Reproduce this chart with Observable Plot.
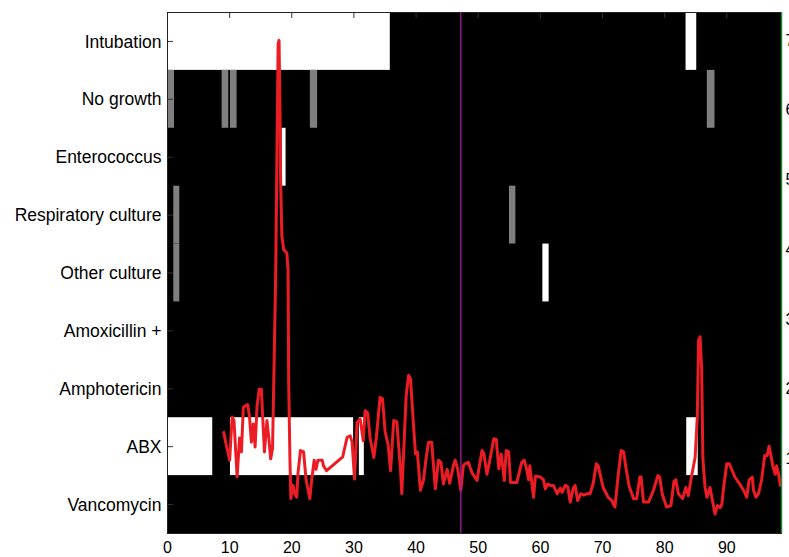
<!DOCTYPE html>
<html><head><meta charset="utf-8">
<script src="https://cdn.jsdelivr.net/npm/d3@7"></script>
<script src="https://cdn.jsdelivr.net/npm/@observablehq/plot@0.6"></script>
<style>
html,body{margin:0;padding:0;background:#fff;overflow:hidden;}
#wrap{position:relative;width:789px;height:557px;}
#wrap svg{position:absolute;left:0;top:0;}
</style></head><body><div id="wrap"></div>
<script>
const categories = ["Intubation","No growth","Enterococcus","Respiratory culture","Other culture","Amoxicillin +","Amphotericin","ABX","Vancomycin"];
const eventCategory = ["Intubation","Intubation","No growth","No growth","No growth","No growth","No growth","Enterococcus","Respiratory culture","Respiratory culture","Other culture","Other culture","ABX","ABX","ABX","ABX"];
const eventStart = [0,83.44,0,8.79,10.13,22.99,86.86,18.44,1.01,55.03,1.01,60.4,0,10.13,30.87,83.55];
const eventEnd   = [35.85,85.16,1.13,9.86,11.2,24.16,88.1,19.08,1.98,56.06,1.98,61.41,7.28,29.95,31.67,85.4];
const eventTone  = ["white","white","gray","gray","gray","gray","gray","white","gray","gray","gray","white","white","white","white","white"];
const xTicks = [0,10,20,30,40,50,60,70,80,90];
const xMax = 98.8;
const signalTicks = [1,2,3,4,5,6,7];
const signalDomain = [-0.07,7.4];
const markerTime = [47.2];
const time = [9.05,9.4,10.0,10.4,10.7,11.2,11.6,11.9,12.2,12.9,13.2,13.5,13.8,14.1,14.4,14.75,15.1,15.6,16.0,16.3,16.6,16.9,17.1,17.4,17.8,17.95,18.1,18.2,18.4,18.7,19.2,19.4,19.5,19.7,19.85,20.2,20.5,20.8,21.0,21.4,21.9,22.3,22.9,23.2,23.6,23.9,24.2,24.9,25.1,25.6,28.2,28.9,29.4,29.7,30.1,30.5,31.0,31.5,31.8,32.2,32.6,33.2,33.6,34.2,34.6,35.0,35.5,35.9,36.4,36.9,37.5,37.7,38.0,38.4,38.8,39.1,39.5,39.9,40.2,40.7,41.2,41.6,42.0,42.5,42.9,43.1,43.6,44.0,44.4,45.0,45.4,46.0,46.3,46.7,47.2,47.6,47.9,48.4,49.0,49.8,50.6,50.9,51.4,51.8,52.5,52.9,53.3,53.7,54.2,54.5,54.9,55.2,56.2,57.0,57.4,57.8,58.1,58.3,58.9,59.2,60.0,60.5,60.8,61.2,61.6,62.1,62.7,63.2,63.5,64.0,64.4,64.8,65.3,65.6,66.0,66.5,67.0,67.5,68.0,68.5,69.0,69.3,70.1,70.9,71.5,72.0,72.5,73.0,73.4,73.8,74.3,75.0,75.5,76.0,76.2,76.6,77.4,78.2,78.9,79.2,79.6,80.3,81.0,81.5,81.8,82.2,82.9,83.4,83.8,84.3,84.9,85.25,85.45,85.7,85.95,86.15,86.5,86.8,87.3,87.8,88.1,88.5,88.9,89.2,89.5,90.0,90.4,91.3,92.0,92.7,93.2,93.6,94.1,94.3,94.7,95.1,95.6,96.1,96.5,96.8,97.1,97.4,97.8,98.0,98.3,98.6];
const signal = [1.38,1.22,0.98,1.6,1.55,0.74,1.3,1.1,1.74,1.78,1.6,1.24,1.5,1.17,1.75,2.0,2.0,1.1,1.55,1.3,1.0,1.15,2.1,3.6,6.95,7.0,6.0,5.0,4.2,4.0,3.95,3.7,2.1,1.0,0.43,0.62,0.5,0.45,0.8,1.12,1.1,0.7,0.43,0.7,0.98,0.85,0.98,0.98,0.9,0.83,1.03,1.31,1.33,1.24,0.71,1.52,1.57,1.26,1.69,1.66,1.3,1.02,1.3,1.88,1.86,1.4,1.2,0.83,1.55,1.53,0.83,0.5,1.1,1.9,2.2,2.15,1.6,1.07,1.1,0.55,0.7,1.0,1.24,1.24,0.8,0.57,0.98,0.95,0.64,0.85,0.65,0.9,0.98,0.85,0.55,0.9,0.93,0.95,0.8,0.69,1.12,1.08,0.78,0.95,1.29,1.28,0.86,1.07,0.69,1.12,1.1,0.66,0.66,0.95,0.98,0.85,0.7,0.9,0.45,0.75,0.74,0.7,0.57,0.64,0.62,0.62,0.5,0.58,0.52,0.62,0.6,0.38,0.58,0.62,0.4,0.5,0.48,0.5,0.5,0.65,0.93,0.9,0.59,0.45,0.4,0.31,0.75,1.12,1.1,0.85,0.6,0.43,0.43,0.74,0.74,0.38,0.38,0.55,0.76,0.74,0.5,0.31,0.33,0.68,0.7,0.5,0.43,0.59,0.47,0.74,1.02,1.6,2.7,2.75,2.3,1.0,0.59,0.45,0.59,0.35,0.21,0.33,0.3,0.35,0.6,0.93,0.93,0.74,0.65,0.55,0.45,0.7,0.74,0.55,0.45,0.5,0.7,1.05,1.05,1.18,1.05,0.9,0.78,0.9,0.8,0.62];

const toneColor = {white: "#ffffff", gray: "#7f7f7f"};
const events = eventCategory.map((c, i) => ({cat: c, start: eventStart[i], end: eventEnd[i], color: toneColor[eventTone[i]]}));
const series = time.map((t, i) => ({t, v: signal[i]}));

const common = {
  width: 789, height: 557,
  marginTop: 12, marginRight: 8, marginBottom: 24, marginLeft: 167,
  style: {fontFamily: "'Liberation Sans', Arial, sans-serif", fontSize: "16px", background: "transparent", color: "black", overflow: "hidden"}
};

const base = Plot.plot({
  ...common,
  x: {domain: [0, xMax]},
  y: {domain: categories, padding: 0, round: false},
  color: {type: "identity"},
  marks: [
    Plot.frame({fill: "black"}),
    Plot.barX(events, {x1: "start", x2: "end", y: "cat", fill: "color"}),
    Plot.axisX({anchor: "bottom", ticks: xTicks, tickSize: 0, tickPadding: 8, label: null, fontSize: 16}),
    Plot.axisX({anchor: "top", ticks: xTicks, tickSize: 5, dy: 5, tickFormat: () => "", label: null, stroke: "#333"}),
    Plot.axisY({anchor: "left", tickSize: 0, tickPadding: 6, label: null, fontSize: 17.5, dy: 0.5}),
    Plot.axisY({anchor: "left", tickSize: 6, dx: 6, tickFormat: () => "", label: null, stroke: "#333"}),
    Plot.frame({stroke: "#222"})
  ]
});

const overlay = Plot.plot({
  ...common,
  x: {domain: [0, xMax], axis: null},
  y: {domain: signalDomain},
  marks: [
    Plot.line(series, {x: "t", y: "v", stroke: "#ec1c24", strokeWidth: 3, strokeLinejoin: "round", strokeLinecap: "round"}),
    Plot.ruleX(markerTime, {stroke: "#9c1f9e", strokeWidth: 1.3}),
    Plot.ruleX([xMax], {stroke: "#238b3a", strokeWidth: 1.5}),
    Plot.axisY({anchor: "right", ticks: signalTicks, tickSize: 0, tickPadding: 4, label: null, fontSize: 16})
  ]
});

const wrap = document.getElementById("wrap");
wrap.appendChild(base);
wrap.appendChild(overlay);
</script></body></html>
